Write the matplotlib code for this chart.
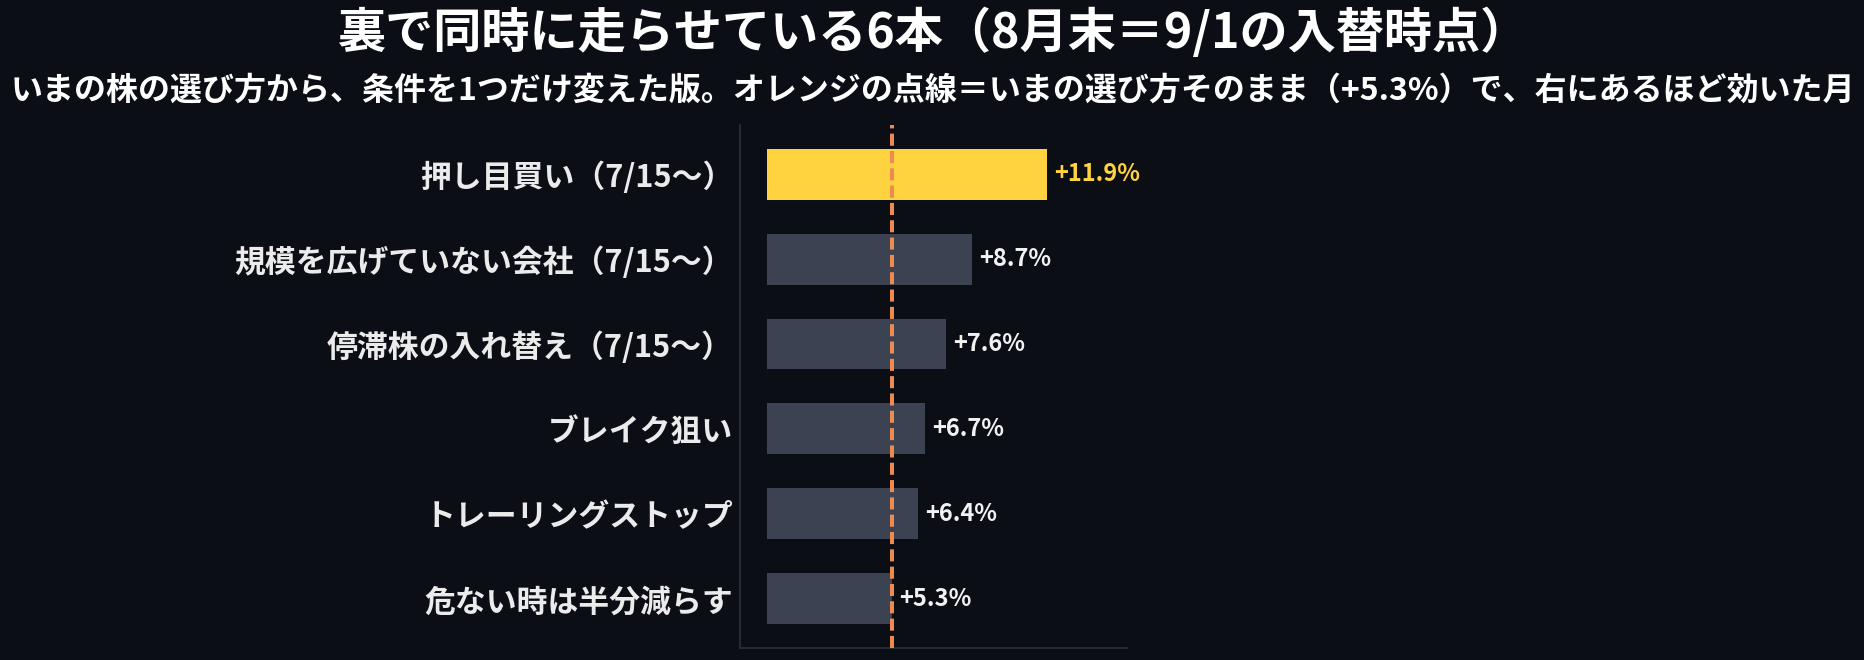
import matplotlib
matplotlib.use("Agg")
import matplotlib.pyplot as plt

plt.rcParams["font.family"] = ["Noto Sans CJK JP", "DejaVu Sans"]

labels = [
    "押し目買い（7/15～）",
    "規模を広げていない会社（7/15～）",
    "停滞株の入れ替え（7/15～）",
    "ブレイク狙い",
    "トレーリングストップ",
    "危ない時は半分減らす",
]
returns = [11.9, 8.7, 7.6, 6.7, 6.4, 5.3]
baseline = 5.3

bg = "#0b0e15"
bar_gray = "#3b4252"
bar_hi = "#ffd23f"
orange = "#ec8a50"

fig = plt.figure(figsize=(18.65, 6.6), dpi=100, facecolor=bg)
ax = fig.add_axes([0.3968, 0.0182, 0.2075, 0.7925])
ax.set_facecolor(bg)

colors = [bar_hi] + [bar_gray] * (len(returns) - 1)
ypos = list(range(len(returns)))
ax.barh(ypos, returns, height=0.6, color=colors, zorder=2)
ax.axvline(baseline, color=orange, linewidth=2.9, dashes=(3, 1.3), zorder=3)

for y, v, c in zip(ypos, returns, colors):
    tc = bar_hi if c == bar_hi else "#f2f2f2"
    ax.text(v + 0.3, y, f"+{v}%", va="center", ha="left", color=tc,
            fontsize=17, fontweight="bold", zorder=4)

ax.set_yticks(ypos)
ax.set_yticklabels(labels, fontsize=22.2, fontweight="bold", color="#ebebeb")
ax.tick_params(axis="y", length=0, pad=5)
ax.set_xticks([])
ax.set_xlim(-1.16, 15.3)
ax.invert_yaxis()

for s in ["top", "right"]:
    ax.spines[s].set_visible(False)
for s in ["left", "bottom"]:
    ax.spines[s].set_color("#2b303b")
    ax.spines[s].set_linewidth(1.2)

fig.text(0.5, 0.95, "裏で同時に走らせている6本（8月末＝9/1の入替時点）",
         ha="center", va="center", color="white", fontsize=34.7, fontweight="bold")
fig.text(0.5, 0.862,
         "いまの株の選び方から、条件を1つだけ変えた版。オレンジの点線＝いまの選び方そのまま（+5.3%）で、右にあるほど効いた月",
         ha="center", va="center", color="white", fontsize=23, fontweight="bold")

fig.savefig("out.png", facecolor=bg)
